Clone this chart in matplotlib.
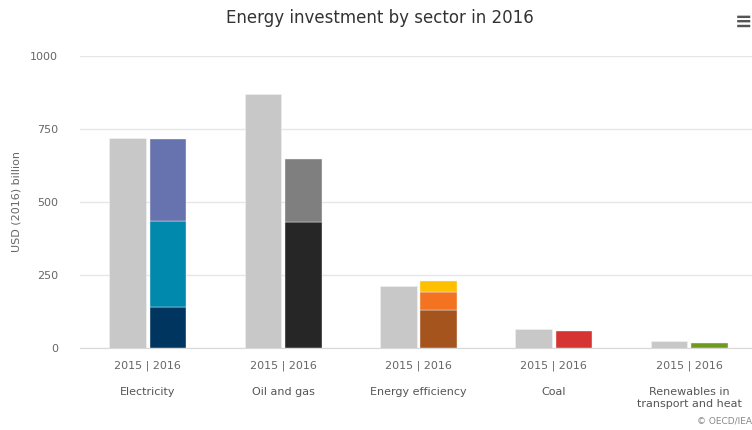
import matplotlib
matplotlib.use("Agg")
import matplotlib.pyplot as plt
from matplotlib import font_manager

categories = ["Electricity", "Oil and gas", "Energy efficiency", "Coal", "Renewables in\ntransport and heat"]
values_2015 = [719, 870, 212, 64, 24]
seg1_2016 = [141, 432, 130, 57, 16]
seg2_2016 = [295, 214, 63, 0, 0]
seg3_2016 = [280, 0, 38, 0, 0]
seg_colors = [
    ["#00355f", "#0089ad", "#6673ae"],
    ["#262626", "#7f7f7f", "#7f7f7f"],
    ["#a6541d", "#f47321", "#ffc000"],
    ["#d63333", "#d63333", "#d63333"],
    ["#6f9a1e", "#6f9a1e", "#6f9a1e"],
]
year_label = "2015 | 2016"
yticks = [0, 250, 500, 750, 1000]

names = {f.name for f in font_manager.fontManager.ttflist}
title_family = ["DejaVu Sans"]
for cand in ["Liberation Sans Narrow", "DejaVu Sans Condensed"]:
    if cand in names:
        title_family = [cand, "DejaVu Sans"]
        break

fig = plt.figure(figsize=(7.52, 4.30), dpi=100)
ax = fig.add_axes([80/752, 82/430, 677/752, 292/430])

x = list(range(len(categories)))
w = 0.27
off = 0.149
ax.bar([i - off for i in x], values_2015, width=w, color="#c8c8c8", edgecolor="#f2f2f2", linewidth=0.4, zorder=3)
bottoms = [0]*len(x)
for k, seg in enumerate([seg1_2016, seg2_2016, seg3_2016]):
    for i in x:
        if seg[i] > 0:
            ax.bar(i + off, seg[i], bottom=bottoms[i], width=w, color=seg_colors[i][k],
                   edgecolor="#f2f2f2", linewidth=0.3, zorder=3)
            bottoms[i] += seg[i]

ax.set_xlim(-0.5, len(x) - 0.5)
ax.set_ylim(0, 1000)
ax.set_yticks(yticks)
ax.set_yticklabels([str(t) for t in yticks], color="#666666", fontsize=8)
ax.grid(axis="y", color="#e6e6e6", linewidth=1, zorder=0)
for s in ["top", "right", "left"]:
    ax.spines[s].set_visible(False)
ax.spines["bottom"].set_color("#d8d8d8")
ax.tick_params(axis="y", length=0, pad=16)
ax.tick_params(axis="x", length=0, pad=9)
ax.set_xticks(x)
ax.set_xticklabels([year_label]*len(x), color="#666666", fontsize=8)
for i, c in enumerate(categories):
    ax.annotate(c, xy=(i, 0), xycoords="data", xytext=(0, -28), textcoords="offset points",
                ha="center", va="top", fontsize=8, color="#555555", linespacing=1.3)
ax.set_ylabel("USD (2016) billion", color="#666666", fontsize=8, labelpad=6)

fig.text(380/752, 1 - 18/430, "Energy investment by sector in 2016", ha="center", va="center",
         fontsize=13 if title_family[0] != "DejaVu Sans" else 12, color="#333333", family=title_family)
fig.text(744/752, 1 - 22/430, "\u2261", ha="center", va="center", fontsize=15, color="#555555", fontweight="bold")
fig.text(1.0, 1 - 421/430, "\u00a9 OECD/IEA", ha="right", va="center", fontsize=6.5, color="#888888")

fig.savefig("out.png", dpi=100)
